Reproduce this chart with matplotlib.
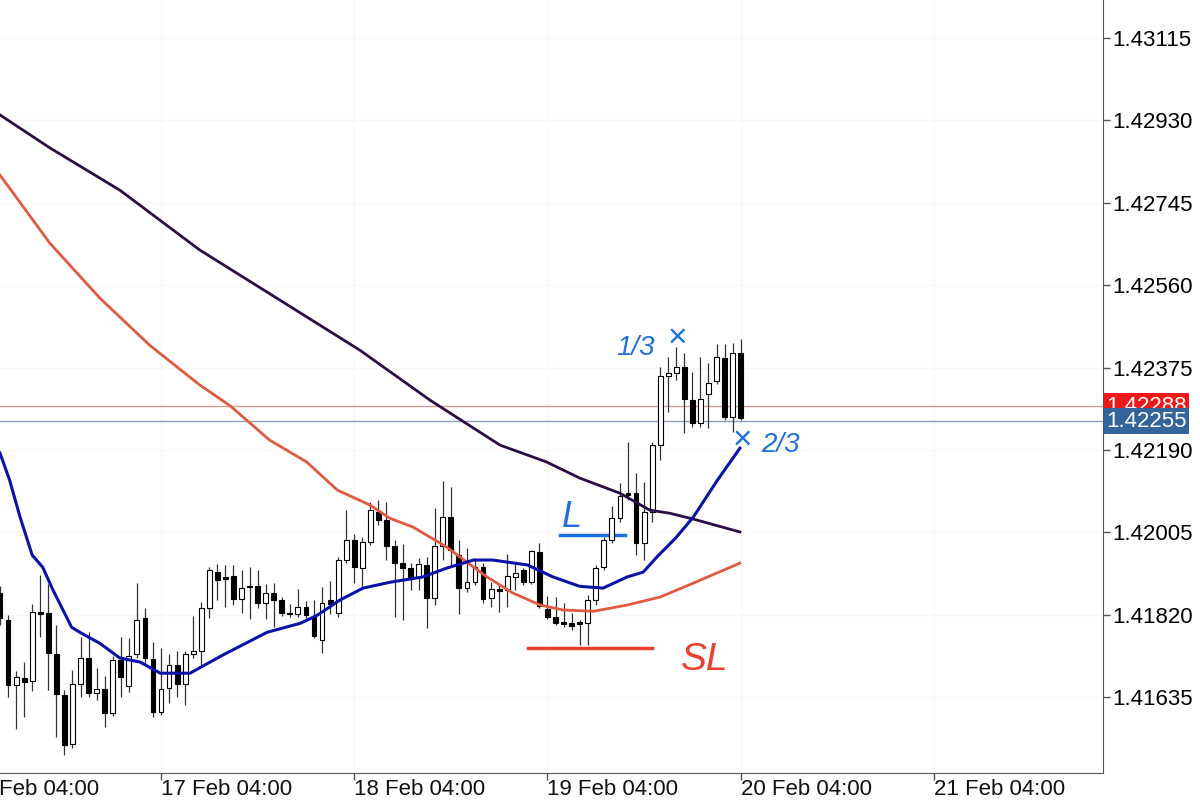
import numpy as np
import matplotlib.pyplot as plt
from matplotlib.transforms import blended_transform_factory

# hourly candles, prices in points (1e-5)
opens = [141869, 141808, 141662, 141678, 141671, 141826, 141824, 141732, 141640, 141530,
         141664, 141723, 141644, 141653, 141599, 141718, 141660, 141732, 141813, 141721,
         141602, 141655, 141707, 141664, 141732, 141739, 141835, 141916, 141905, 141907,
         141855, 141884, 141884, 141846, 141869, 141853, 141824, 141822, 141837, 141815,
         141763, 141853, 141824, 141943, 141988, 141925, 141983, 142051, 142033, 141974,
         141936, 141925, 141905, 141932, 141858, 141974, 142039, 141954, 141880, 141893,
         141927, 141858, 141878, 141875, 141905, 141920, 141893, 141961, 141833, 141815,
         141804, 141801, 141804, 141801, 141853, 141927, 141988, 142037, 142093, 142093,
         141981, 142051, 142201, 142356, 142363, 142376, 142302, 142250, 142315, 142345,
         142396, 142264, 142408]
highs = [141884, 141819, 141694, 141714, 141844, 141909, 141889, 141797, 141651, 141696,
         141770, 141781, 141700, 141682, 141727, 141770, 141768, 141891, 141835, 141759,
         141745, 141732, 141739, 141739, 141817, 141849, 141927, 141934, 141932, 141932,
         141920, 141927, 141920, 141889, 141891, 141860, 141844, 141878, 141851, 141853,
         141882, 141896, 141950, 142055, 142001, 141994, 142073, 142078, 142073, 141988,
         141979, 141936, 141947, 141950, 142060, 142120, 142107, 141988, 141970, 141947,
         141936, 141893, 141887, 141956, 141936, 141925, 141965, 141981, 141862, 141860,
         141846, 141824, 141808, 141864, 141932, 141994, 142064, 142116, 142208, 142138,
         142118, 142208, 142376, 142399, 142421, 142408, 142365, 142399, 142385, 142428,
         142428, 142430, 142439]
lows = [141797, 141635, 141563, 141590, 141649, 141770, 141651, 141545, 141505, 141521,
        141635, 141635, 141629, 141568, 141593, 141635, 141646, 141723, 141707, 141590,
        141595, 141622, 141635, 141617, 141723, 141707, 141813, 141853, 141837, 141842,
        141824, 141810, 141835, 141810, 141792, 141817, 141815, 141815, 141813, 141768,
        141734, 141822, 141815, 141936, 141891, 141880, 141976, 142021, 141943, 141815,
        141808, 141875, 141875, 141790, 141842, 141943, 141932, 141822, 141871, 141887,
        141846, 141837, 141826, 141837, 141875, 141887, 141889, 141835, 141810, 141797,
        141792, 141786, 141752, 141752, 141842, 141920, 141981, 142028, 142078, 141954,
        141943, 142028, 142167, 142275, 142347, 142228, 142241, 142241, 142239, 142338,
        142257, 142230, 142257]
closes = [141813, 141662, 141680, 141669, 141826, 141822, 141734, 141642, 141527, 141664,
          141723, 141644, 141653, 141599, 141718, 141680, 141727, 141808, 141723, 141602,
          141653, 141707, 141664, 141732, 141739, 141835, 141920, 141898, 141900, 141855,
          141880, 141882, 141846, 141869, 141853, 141824, 141822, 141837, 141819, 141772,
          141846, 141844, 141943, 141988, 141927, 141983, 142055, 142033, 141974, 141936,
          141925, 141905, 141934, 141858, 141974, 142039, 141965, 141880, 141893, 141927,
          141855, 141878, 141873, 141907, 141914, 141893, 141963, 141840, 141815, 141801,
          141799, 141795, 141799, 141853, 141925, 141988, 142037, 142086, 142089, 141981,
          142051, 142201, 142356, 142363, 142376, 142304, 142250, 142304, 142340, 142399,
          142264, 142408, 142262]

# moving averages (candle index, price points)
fast_idx = [0, 1.2, 2.5, 4, 5.3, 6.6, 8.9, 9.9, 12.4, 14.9, 17.4, 19.9, 23.6, 27.7, 33.2, 37.3,
            39.4, 42.2, 45.1, 48.4, 52.5, 55.5, 58.8, 61.2, 65.5, 68.7, 72.0, 74.9, 77.9, 79.9,
            81.6, 83.9, 86.1, 89.1, 91.9]
fast_ma = [142183, 142122, 142039, 141954, 141927, 141875, 141792, 141781, 141756, 141723,
           141714, 141689, 141689, 141730, 141781, 141801, 141819, 141853, 141880, 141893,
           141905, 141925, 141943, 141943, 141932, 141905, 141884, 141880, 141905, 141916,
           141950, 141992, 142039, 142122, 142194]
mid_idx = [0, 6.2, 12.4, 18.6, 24.8, 28.6, 33.5, 38.1, 41.9, 46.0, 48.4, 51.3, 55.5, 58.0,
           60.5, 63.7, 67.1, 69.9, 73.7, 77.9, 82.0, 86.1, 91.9]
mid_ma = [142807, 142654, 142531, 142425, 142336, 142289, 142212, 142163, 142100, 142066,
          142037, 142017, 141972, 141938, 141905, 141869, 141842, 141831, 141828, 141842,
          141860, 141891, 141936]
slow_idx = [0, 6.2, 14.9, 24.8, 34.8, 44.7, 53.4, 62.1, 67.9, 72.0, 77.0, 80.7, 83.2, 86.1, 91.9]
slow_ma = [142942, 142868, 142773, 142639, 142526, 142414, 142302, 142201, 142163, 142127,
           142093, 142055, 142048, 142035, 142006]

price_ticks = [1.43115, 1.42930, 1.42745, 1.42560, 1.42375, 1.42190, 1.42005, 1.41820, 1.41635]
day_ticks = [-4, 20, 44, 68, 92, 116]
day_labels = ['16 Feb 04:00', '17 Feb 04:00', '18 Feb 04:00', '19 Feb 04:00',
              '20 Feb 04:00', '21 Feb 04:00']
ask_price = 1.42288
bid_price = 1.42255

plt.rcParams['font.family'] = ['Liberation Sans', 'DejaVu Sans']

o = np.array(opens) / 1e5
h = np.array(highs) / 1e5
l = np.array(lows) / 1e5
c = np.array(closes) / 1e5
x = np.arange(len(o))

fig = plt.figure(figsize=(12, 8.08), dpi=100)
ax = fig.add_axes([0, 1 - 773 / 808, 1103 / 1200, 773 / 808])
ax.set_xlim(0, 137)
ax.set_ylim(1.41465, 1.43200)

for p in price_ticks:
    ax.axhline(p, color='#f8f8f8', lw=0.8, zorder=0)
for d in day_ticks:
    ax.axvline(d, color='#f8f8f8', lw=0.8, zorder=0)

ax.vlines(x, l, h, color='#333333', lw=0.9, zorder=2)
up = c >= o
ax.bar(x[up], (c - o)[up], bottom=o[up], width=0.6, color='white',
       edgecolor='black', lw=0.8, zorder=3)
ax.bar(x[~up], (o - c)[~up], bottom=c[~up], width=0.6, color='black',
       edgecolor='black', lw=0.8, zorder=3)

ax.plot(slow_idx, np.array(slow_ma) / 1e5, color='#2b0d45', lw=2, zorder=4)
ax.plot(mid_idx, np.array(mid_ma) / 1e5, color='#e05a40', lw=2, zorder=4)
ax.plot(fast_idx, np.array(fast_ma) / 1e5, color='#0c12a8', lw=2.2, zorder=4)

ax.axhline(ask_price, color='#d89a9a', lw=1, zorder=1)
ax.axhline(bid_price, color='#8aa0b8', lw=1, zorder=1)

# right price axis
ax.yaxis.tick_right()
ax.set_yticks(price_ticks)
ax.set_yticklabels([f'{p:.5f}' for p in price_ticks])
ax.tick_params(axis='y', length=5, width=1, color='#555555', labelsize=16, pad=2)
ax.set_xticks([d for d in day_ticks if d >= 0])
ax.set_xticklabels([])
ax.tick_params(axis='x', length=5, width=1, color='#555555')
trans = blended_transform_factory(ax.transData, ax.transAxes)
for d, lab in zip(day_ticks, day_labels):
    ax.text(d, -0.008, lab, transform=trans, ha='left', va='top', fontsize=16,
            color='#111111', clip_on=False)
for s in ['top', 'left']:
    ax.spines[s].set_visible(False)
for s in ['right', 'bottom']:
    ax.spines[s].set_color('#555555')

ytrans = blended_transform_factory(ax.transAxes, ax.transData)
ax.text(1.003, ask_price, f'{ask_price:.5f}', transform=ytrans, va='center', ha='left',
        fontsize=16, color='white', clip_on=False,
        bbox=dict(boxstyle='square,pad=0.12', fc='#f01818', ec='none'))
ax.text(1.003, bid_price, f'{bid_price:.5f}', transform=ytrans, va='center', ha='left',
        fontsize=16, color='white', clip_on=False,
        bbox=dict(boxstyle='square,pad=0.12', fc='#33649c', ec='none'))

# handwritten notes
pen_blue = '#1f6fe0'
pen_red = '#e8402c'
ax.text(71, 1.42039, 'L', color=pen_blue, fontsize=26, ha='center', va='center', style='italic')
ax.plot([69.6, 77.6], [1.41999, 1.41999], color=pen_blue, lw=2.5)
ax.text(78.9, 1.42419, '1/3', color=pen_blue, fontsize=20, ha='center', va='center', style='italic')
ax.text(84.2, 1.42441, '×', color=pen_blue, fontsize=24, ha='center', va='center')
ax.text(92.2, 1.42212, '×', color=pen_blue, fontsize=24, ha='center', va='center')
ax.text(96.9, 1.42201, '2/3', color=pen_blue, fontsize=20, ha='center', va='center', style='italic')
ax.plot([65.6, 81.0], [1.41745, 1.41745], color=pen_red, lw=2.5)
ax.text(87.5, 1.41718, 'SL', color=pen_red, fontsize=28, ha='center', va='center', style='italic')

fig.savefig('out.png', dpi=100)
